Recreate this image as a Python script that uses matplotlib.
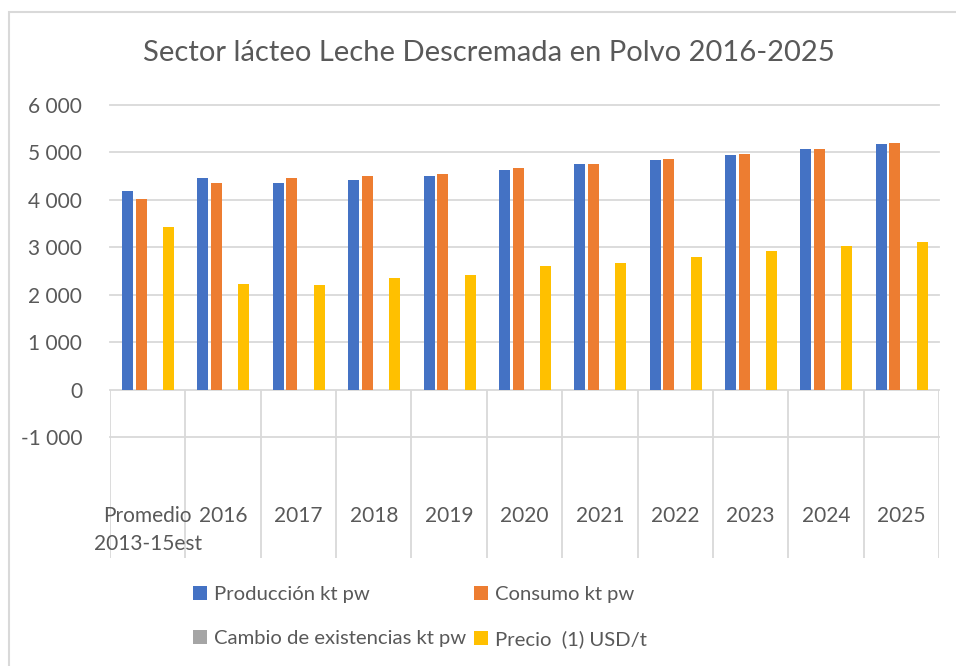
import numpy as np
import matplotlib
matplotlib.use("Agg")
import matplotlib.pyplot as plt
from matplotlib.patches import Rectangle
from matplotlib.ticker import FixedLocator, FuncFormatter

plt.rcParams['font.family'] = ['Lato', 'DejaVu Sans']

# data
categories = ["Promedio\n2013-15est", "2016", "2017", "2018", "2019", "2020",
              "2021", "2022", "2023", "2024", "2025"]
produccion = [4190, 4456, 4358, 4421, 4505, 4632, 4758, 4842, 4954, 5067, 5179]
consumo = [4021, 4351, 4470, 4505, 4554, 4667, 4765, 4856, 4968, 5074, 5193]
cambio_existencias = [0, 0, 0, 0, 0, 0, 0, 0, 0, 0, 0]
precio = [3438, 2232, 2210, 2351, 2428, 2618, 2681, 2800, 2933, 3038, 3123]
y_ticks = [-1000, 0, 1000, 2000, 3000, 4000, 5000, 6000]

series = [
    ("Producción kt pw", produccion, "#4472C4"),
    ("Consumo kt pw", consumo, "#ED7D31"),
    ("Cambio de existencias kt pw", cambio_existencias, "#A5A5A5"),
    ("Precio  (1) USD/t", precio, "#FFC000"),
]

W, H = 956, 666
fig = plt.figure(figsize=(W / 100, H / 100), dpi=100)
ax = fig.add_axes([110 / W, 1 - 558 / H, (939 - 110) / W, (558 - 105) / H])

text_col = "#595959"
grid_col = "#D9D9D9"
ymin = -3537

x = np.arange(len(categories))
offsets = [-0.267, -0.086, 0.093, 0.278]
bars = []
for (name, vals, col), off in zip(series, offsets):
    b = ax.bar(x + off, vals, width=0.146, color=col, label=name, zorder=3)
    bars.append(b)

ax.set_xlim(-0.5, len(categories) - 0.5)
ax.set_ylim(ymin, 6000)

# gridlines
for t in y_ticks:
    ax.axhline(t, color=grid_col, lw=1.3, zorder=1, clip_on=False)
# category separators below the axis
ax.vlines(np.arange(len(categories) + 1) - 0.5, ymin, 0, color=grid_col, lw=1.3, zorder=1)

for s in ax.spines.values():
    s.set_visible(False)
ax.yaxis.set_major_locator(FixedLocator(y_ticks))
ax.yaxis.set_major_formatter(FuncFormatter(lambda v, p: f"{int(v):,}".replace(",", " ")))
ax.tick_params(axis='y', length=0, pad=20, labelsize=15, labelcolor=text_col)
ax.set_xticks([])

for i, c in enumerate(categories):
    ax.text(i, -2440, c, ha='center', va='top', fontsize=15, color=text_col,
            linespacing=1.5)

fig.text(489 / W, 1 - 53 / H, "Sector lácteo Leche Descremada en Polvo 2016-2025",
         ha='center', va='center', fontsize=21, color=text_col)

# legend: order handles so rows read Producción, Consumo / Cambio, Precio
order = [0, 2, 1, 3]
leg = fig.legend([bars[i] for i in order], [series[i][0] for i in order],
                 ncol=2, loc='center', bbox_to_anchor=(420 / W, 1 - 617 / H),
                 frameon=False, fontsize=14.6, labelcolor=text_col,
                 handlelength=0.7, handleheight=0.7, handletextpad=0.35,
                 columnspacing=0.35, labelspacing=1.3)

# outer chart frame
fig.patches.append(Rectangle((9 / W, -0.1), 1.0, 1 - 12 / H + 0.1,
                             transform=fig.transFigure, fill=False,
                             edgecolor=grid_col, lw=1.5))

fig.savefig("out.png", dpi=100)
